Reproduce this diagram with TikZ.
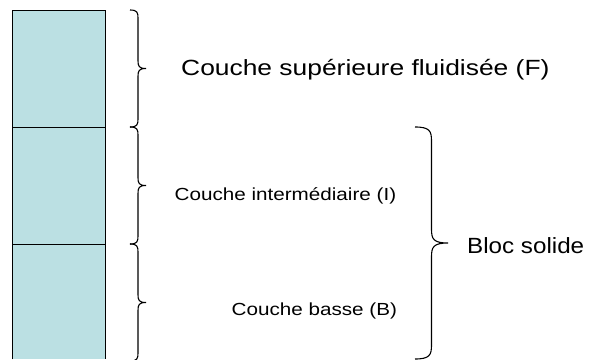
\documentclass[tikz,border=0pt]{standalone}
\usepackage{fontspec}
\setmainfont{Liberation Sans}
\definecolor{layerfill}{RGB}{187,224,227}
\newcommand{\bigtxt}  [2][1.2]{\scalebox{#1}[1]{\fontsize{22}{26}\selectfont #2}}
\newcommand{\smalltxt}[1]{\scalebox{1.18}[1]{\fontsize{17.5}{21}\selectfont #1}}
% accolade : x depart, y haut, y bas, demi-largeur, longueur des boucles
\newcommand{\accolade}[5]{%
  \draw[curly] (#1,#2)
     .. controls ({#1+0.9*#4},#2) and ({#1+#4},{#2+0.3*#5}) .. ({#1+#4},{#2+#5})
     -- ({#1+#4},{(#2+#3)/2-#5})
     .. controls ({#1+#4},{(#2+#3)/2-0.3*#5}) and ({#1+1.1*#4},{(#2+#3)/2}) .. ({#1+2*#4},{(#2+#3)/2})
     .. controls ({#1+1.1*#4},{(#2+#3)/2}) and ({#1+#4},{(#2+#3)/2+0.3*#5}) .. ({#1+#4},{(#2+#3)/2+#5})
     -- ({#1+#4},{#3-#5})
     .. controls ({#1+#4},{#3-0.3*#5}) and ({#1+0.9*#4},#3) .. (#1,#3);}

\begin{document}
\begin{tikzpicture}[x=1pt,y=-1pt,
    layer/.style={fill=layerfill,inner sep=0pt,minimum width=93pt,anchor=north west},
    curly/.style={line width=1.1pt},
    label/.style={anchor=base west,inner sep=0pt}]
     \useasboundingbox (0,0) rectangle (605,359);
     % colonne de couches
     \node[layer,minimum height=117pt] (F) at (12, 10) {};
     \node[layer,minimum height=117pt] (I) at (12,127) {};
     \node[layer,minimum height=115pt] (B) at (12,244) {};
     \draw[line width=0.9pt] (B.south west) -- (F.north west) -- (F.north east) -- (B.south east);
     \draw[line width=0.9pt] (I.north west) -- (I.north east);
     \draw[line width=0.9pt] (B.north west) -- (B.north east);
     % accolades
     \accolade{130}{10}{127}{8}{8}
     \accolade{130}{127}{244}{8}{8}
     \accolade{130}{244}{361}{8}{8}
     \accolade{415}{127}{359}{16.5}{14}
     % textes
     \node[label] (tF) at (181, 75) {\bigtxt{Couche supérieure fluidisée (F)}};
     \node[label] (tI) at (174.5,200) {\smalltxt{Couche intermédiaire (I)}};
     \node[label] (tB) at (231.5,315) {\smalltxt{Couche basse (B)}};
     \node[label] (tS) at (467,253) {\bigtxt[1.1]{Bloc solide}};
\end{tikzpicture}
\end{document}
